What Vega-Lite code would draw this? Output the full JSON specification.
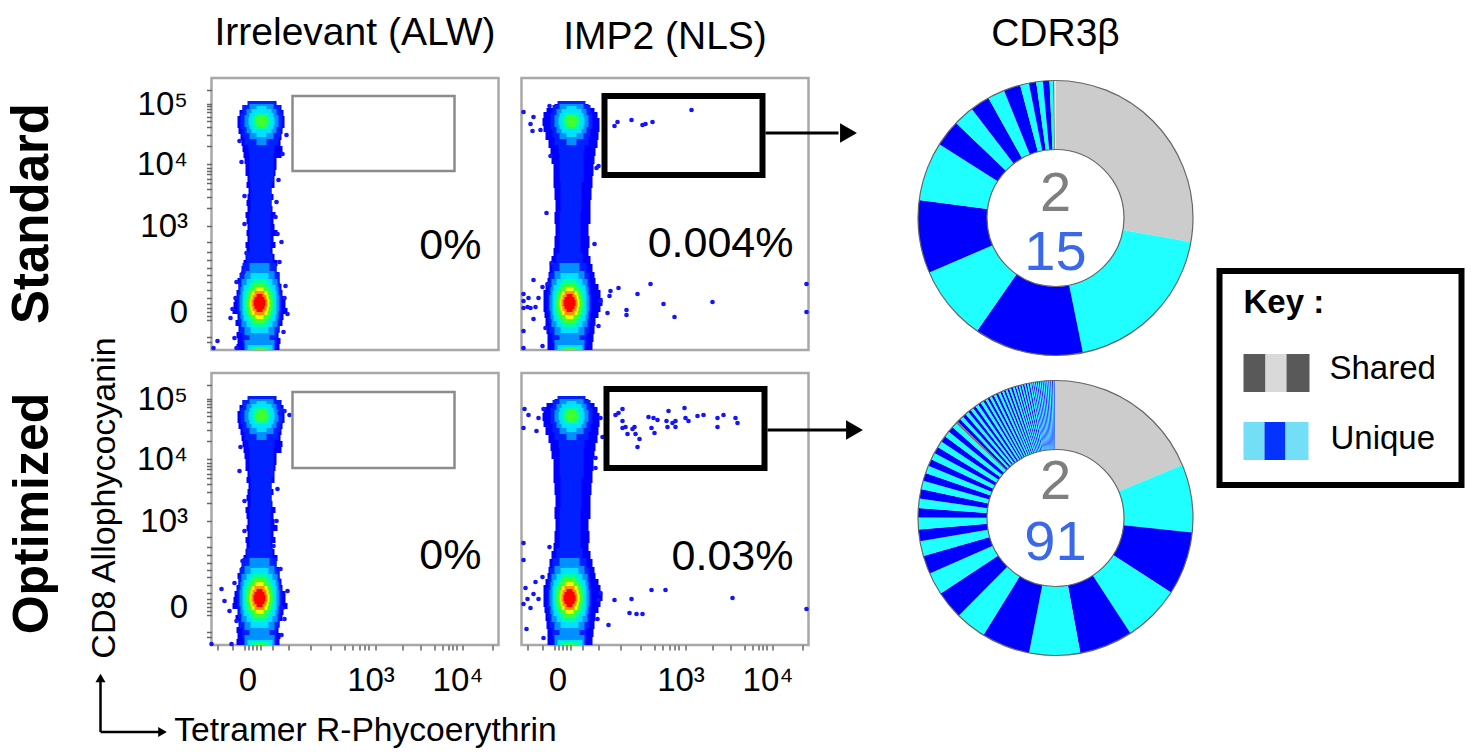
{"$schema":"https://vega.github.io/schema/vega-lite/v6.json","background":"white","padding":{"left":4.5,"top":12,"right":0,"bottom":0},"bounds":"flush","columns":5,"spacing":{"row":15,"column":23},"resolve":{"scale":{"color":"independent"}},
"config":{"font":"Liberation Sans","axis":{"grid":false,"domain":false,"tickColor":"#666","tickWidth":1.5,"tickSize":5,"labelFont":"Liberation Sans","labelFontSize":33,"labelColor":"black","labelBound":false,"labelFlush":false,"labelOverlap":false,"titleFont":"Liberation Sans"},"title":{"font":"Liberation Sans","fontWeight":"normal","fontSize":39,"color":"black","anchor":"middle"}},
"datasets":{
"hot":[
{"l":2,"x":-15,"x2":29,"y":-1,"y2":19},{"l":2,"x":-14,"x2":28,"y":19,"y2":29},{"l":2,"x":-14,"x2":28,"y":-11,"y2":-1},{"l":2,"x":-13,"x2":27,"y":29,"y2":39},{"l":2,"x":-13,"x2":27,"y":-21,"y2":-11},{"l":2,"x":-10,"x2":24,"y":39,"y2":49},{"l":2,"x":-10,"x2":24,"y":-31,"y2":-21},{"l":2,"x":-6,"x2":20,"y":49,"y2":59},{"l":2,"x":-6,"x2":22,"y":-38,"y2":-31},{"l":2,"x":-3,"x2":18,"y":59,"y2":100},{"l":2,"x":-2,"x2":19,"y":100,"y2":130},{"l":2,"x":-3,"x2":21,"y":130,"y2":159},{"l":2,"x":-12,"x2":30,"y":183,"y2":199},{"l":2,"x":-10,"x2":28,"y":199,"y2":207},{"l":2,"x":-5,"x2":23,"y":207,"y2":211},{"l":2,"x":-10,"x2":28,"y":175,"y2":183},{"l":2,"x":-8,"x2":26,"y":167,"y2":175},{"l":2,"x":-4,"x2":22,"y":159,"y2":167},
{"l":3,"x":-13,"x2":27,"y":1,"y2":17},{"l":3,"x":-12,"x2":26,"y":-7,"y2":1},{"l":3,"x":-12,"x2":26,"y":17,"y2":25},{"l":3,"x":-11,"x2":25,"y":-15,"y2":-7},{"l":3,"x":-11,"x2":25,"y":25,"y2":33},{"l":3,"x":-8,"x2":22,"y":-23,"y2":-15},{"l":3,"x":-8,"x2":22,"y":33,"y2":41},{"l":3,"x":-3,"x2":17,"y":-31,"y2":-23},{"l":3,"x":-3,"x2":17,"y":41,"y2":49},{"l":3,"x":-8,"x2":22,"y":-38,"y2":-28},{"l":3,"x":-8,"x2":26,"y":185,"y2":197},{"l":3,"x":-6,"x2":24,"y":179,"y2":185},{"l":3,"x":-6,"x2":24,"y":197,"y2":203},{"l":3,"x":-3,"x2":21,"y":173,"y2":179},{"l":3,"x":-3,"x2":21,"y":203,"y2":208},{"l":3,"x":4,"x2":14,"y":167,"y2":173},
{"l":4,"x":-10,"x2":24,"y":-3,"y2":21},{"l":4,"x":-9,"x2":23,"y":-9,"y2":-3},{"l":4,"x":-9,"x2":23,"y":21,"y2":27},{"l":4,"x":-6,"x2":20,"y":-15,"y2":-9},{"l":4,"x":-6,"x2":20,"y":27,"y2":33},{"l":4,"x":-2,"x2":16,"y":-21,"y2":-15},{"l":4,"x":-2,"x2":16,"y":33,"y2":39},{"l":4,"x":-5,"x2":20,"y":-38,"y2":-33},{"l":4,"x":-4,"x2":22,"y":187,"y2":195},{"l":4,"x":-3,"x2":21,"y":183,"y2":187},{"l":4,"x":-3,"x2":21,"y":195,"y2":199},{"l":4,"x":-1,"x2":19,"y":179,"y2":183},{"l":4,"x":-1,"x2":19,"y":199,"y2":203},{"l":4,"x":4,"x2":14,"y":175,"y2":179},{"l":4,"x":4,"x2":14,"y":203,"y2":206},
{"l":5,"x":-8,"x2":22,"y":1,"y2":17},{"l":5,"x":-7,"x2":21,"y":-3,"y2":1},{"l":5,"x":-7,"x2":21,"y":17,"y2":21},{"l":5,"x":-5,"x2":19,"y":-7,"y2":-3},{"l":5,"x":-5,"x2":19,"y":21,"y2":25},{"l":5,"x":-3,"x2":17,"y":-11,"y2":-7},{"l":5,"x":-3,"x2":17,"y":25,"y2":29},{"l":5,"x":0,"x2":14,"y":-15,"y2":-11},{"l":5,"x":0,"x2":14,"y":29,"y2":33},{"l":5,"x":-2,"x2":17,"y":-38,"y2":-35},{"l":5,"x":0,"x2":18,"y":187,"y2":195},{"l":5,"x":2,"x2":16,"y":183,"y2":187},{"l":5,"x":2,"x2":16,"y":195,"y2":199},
{"l":6,"x":-6,"x2":20,"y":5,"y2":13},{"l":6,"x":-5,"x2":19,"y":1,"y2":5},{"l":6,"x":-5,"x2":19,"y":13,"y2":17},{"l":6,"x":-4,"x2":18,"y":-3,"y2":1},{"l":6,"x":-4,"x2":18,"y":17,"y2":21},{"l":6,"x":-2,"x2":16,"y":-7,"y2":-3},{"l":6,"x":-2,"x2":16,"y":21,"y2":25},{"l":6,"x":1,"x2":13,"y":-11,"y2":-7},{"l":6,"x":1,"x2":13,"y":25,"y2":29},{"l":6,"x":3,"x2":12,"y":-38,"y2":-36},{"l":6,"x":3,"x2":15,"y":188,"y2":194},{"l":6,"x":5,"x2":13,"y":185,"y2":188},{"l":6,"x":5,"x2":13,"y":194,"y2":197},
{"l":7,"x":-3,"x2":17,"y":5,"y2":13},{"l":7,"x":-2,"x2":16,"y":1,"y2":5},{"l":7,"x":-2,"x2":16,"y":13,"y2":17},{"l":7,"x":-1,"x2":15,"y":-3,"y2":1},{"l":7,"x":-1,"x2":15,"y":17,"y2":21},{"l":7,"x":3,"x2":11,"y":-7,"y2":-3},{"l":7,"x":3,"x2":11,"y":21,"y2":25},
{"l":8,"x":-1,"x2":15,"y":5,"y2":13},{"l":8,"x":0,"x2":14,"y":1,"y2":5},{"l":8,"x":0,"x2":14,"y":13,"y2":17},{"l":8,"x":2,"x2":12,"y":-3,"y2":1},{"l":8,"x":2,"x2":12,"y":17,"y2":21},
{"l":9,"x":1,"x2":13,"y":6,"y2":12},{"l":9,"x":2,"x2":12,"y":3,"y2":6},{"l":9,"x":2,"x2":12,"y":12,"y2":15},{"l":9,"x":4,"x2":10,"y":0,"y2":3},{"l":9,"x":4,"x2":10,"y":15,"y2":18}],
"baseNarrow":[{"x":-16,"x2":27,"y":-38,"y2":-32},{"x":-15,"x2":28,"y":-32,"y2":-26},{"x":-16,"x2":26,"y":-26,"y2":-20},{"x":-14,"x2":27,"y":-20,"y2":-14},{"x":-17,"x2":30,"y":-14,"y2":-8},{"x":-15,"x2":31,"y":-8,"y2":-2},{"x":-20,"x2":35,"y":-2,"y2":4},{"x":-19,"x2":33,"y":4,"y2":10},{"x":-18,"x2":33,"y":10,"y2":16},{"x":-16,"x2":30,"y":16,"y2":22},{"x":-14,"x2":29,"y":22,"y2":28},{"x":-15,"x2":27,"y":28,"y2":34},{"x":-12,"x2":27,"y":34,"y2":40},{"x":-11,"x2":24,"y":40,"y2":46},{"x":-9,"x2":25,"y":46,"y2":52},{"x":-7,"x2":22,"y":52,"y2":58},{"x":-6,"x2":20,"y":58,"y2":64},{"x":-7,"x2":23,"y":64,"y2":70},{"x":-5,"x2":21,"y":70,"y2":76},{"x":-6,"x2":25,"y":76,"y2":82},{"x":-5,"x2":22,"y":82,"y2":88},{"x":-6,"x2":21,"y":88,"y2":94},{"x":-7,"x2":23,"y":94,"y2":100},{"x":-5,"x2":20,"y":100,"y2":106},{"x":-6,"x2":19,"y":106,"y2":112},{"x":-5,"x2":21,"y":112,"y2":118},{"x":-4,"x2":19,"y":118,"y2":124},{"x":-6,"x2":22,"y":124,"y2":130},{"x":-5,"x2":22,"y":130,"y2":136},{"x":-7,"x2":23,"y":136,"y2":142},{"x":-7,"x2":24,"y":142,"y2":148},{"x":-8,"x2":24,"y":148,"y2":154},{"x":-9,"x2":29,"y":154,"y2":160},{"x":-10,"x2":30,"y":160,"y2":166},{"x":-11,"x2":28,"y":166,"y2":172},{"x":-12,"x2":29,"y":172,"y2":178},{"x":-14,"x2":30,"y":178,"y2":184},{"x":-15,"x2":32,"y":184,"y2":196},{"x":-13,"x2":31,"y":196,"y2":202},{"x":-10,"x2":29,"y":202,"y2":207},{"x":-2,"x2":24,"y":207,"y2":211}],
"baseWide":[{"x":-15,"x2":30,"y":-38,"y2":-30},{"x":-15,"x2":31,"y":-30,"y2":-22},{"x":-16,"x2":32,"y":-22,"y2":-14},{"x":-17,"x2":33,"y":-14,"y2":-6},{"x":-18,"x2":36,"y":-6,"y2":0},{"x":-19,"x2":38,"y":0,"y2":6},{"x":-19,"x2":40,"y":6,"y2":14},{"x":-19,"x2":38,"y":14,"y2":22},{"x":-17,"x2":36,"y":22,"y2":28},{"x":-15,"x2":33,"y":28,"y2":34},{"x":-14,"x2":32,"y":34,"y2":40},{"x":-13,"x2":30,"y":40,"y2":48},{"x":-11,"x2":28,"y":48,"y2":56},{"x":-9,"x2":26,"y":56,"y2":64},{"x":-8,"x2":27,"y":64,"y2":76},{"x":-7,"x2":26,"y":76,"y2":88},{"x":-8,"x2":28,"y":88,"y2":100},{"x":-7,"x2":28,"y":100,"y2":112},{"x":-8,"x2":29,"y":112,"y2":124},{"x":-9,"x2":30,"y":124,"y2":136},{"x":-9,"x2":31,"y":136,"y2":148},{"x":-11,"x2":32,"y":148,"y2":156},{"x":-12,"x2":33,"y":156,"y2":164},{"x":-14,"x2":35,"y":164,"y2":172},{"x":-17,"x2":36,"y":172,"y2":180},{"x":-19,"x2":37,"y":180,"y2":186},{"x":-20,"x2":37,"y":186,"y2":194},{"x":-19,"x2":35,"y":194,"y2":200},{"x":-16,"x2":32,"y":200,"y2":204},{"x":-8,"x2":26,"y":204,"y2":208},{"x":0,"x2":18,"y":208,"y2":211}],
"pts1":[{"x":34,"y":177},{"x":-8,"y":116},{"x":26,"y":132},{"x":23,"y":95},{"x":29,"y":70},{"x":-35,"y":-29},{"x":-39,"y":-36},{"x":-16,"y":-36},{"x":-20,"y":3},{"x":35,"y":-2},{"x":32,"y":14},{"x":-17,"y":14},{"x":-13,"y":171},{"x":30,"y":158},{"x":25,"y":78},{"x":-6,"y":59},{"x":-9,"y":40},{"x":27,"y":50},{"x":-11,"y":150},{"x":-16,"y":30},{"x":33,"y":26},{"x":-22,"y":-6},{"x":31,"y":-20},{"x":-18,"y":-26},{"x":24,"y":110},{"x":-8,"y":88}],
"pts3":[{"x":37,"y":192},{"x":27,"y":194},{"x":32,"y":196},{"x":-28,"y":6},{"x":-23,"y":-4},{"x":-31,"y":18},{"x":-16,"y":-14},{"x":-41,"y":-37},{"x":-21,"y":-37},{"x":17,"y":136},{"x":-8,"y":106},{"x":21,"y":61},{"x":30,"y":-1},{"x":35,"y":16},{"x":-13,"y":136},{"x":24,"y":86},{"x":-10,"y":46},{"x":28,"y":38},{"x":-12,"y":160},{"x":-18,"y":24},{"x":32,"y":-12},{"x":25,"y":118},{"x":-8,"y":76},{"x":29,"y":-28}],
"pts2":[{"x":52,"y":186},{"x":55,"y":190},{"x":69,"y":192},{"x":80,"y":187},{"x":83,"y":188},{"x":90,"y":190},{"x":129,"y":202},{"x":-13,"y":206},{"x":-29,"y":195},{"x":-32,"y":188},{"x":-30,"y":181},{"x":-22,"y":182},{"x":-39,"y":200},{"x":34,"y":144},{"x":36,"y":146},{"x":-16,"y":99},{"x":-12,"y":156},{"x":32,"y":68},{"x":-11,"y":49},{"x":-29,"y":32},{"x":-20,"y":25},{"x":-15,"y":28},{"x":-39,"y":18},{"x":-34,"y":14},{"x":-39,"y":4},{"x":-32,"y":4},{"x":-27,"y":5},{"x":-29,"y":-7},{"x":-39,"y":-19},{"x":-39,"y":-36},{"x":-20,"y":-34},{"x":-24,"y":14},{"x":-17,"y":-16},{"x":-35,"y":5},{"x":-39,"y":11},{"x":48,"y":21},{"x":56,"y":24},{"x":47,"y":16},{"x":75,"y":18},{"x":88,"y":28},{"x":101,"y":8},{"x":150,"y":10},{"x":45,"y":-1},{"x":64,"y":2},{"x":64,"y":-3},{"x":112,"y":-5},{"x":36,"y":-14},{"x":244,"y":28},{"x":244,"y":0},{"x":38,"y":11}],
"pts4":[{"x":60,"y":198},{"x":56,"y":194},{"x":53,"y":192},{"x":60,"y":186},{"x":60,"y":179},{"x":63,"y":180},{"x":72,"y":180},{"x":70,"y":178},{"x":65,"y":173},{"x":73,"y":173},{"x":77,"y":168},{"x":75,"y":160},{"x":86,"y":190},{"x":91,"y":189},{"x":95,"y":187},{"x":89,"y":179},{"x":92,"y":174},{"x":106,"y":196},{"x":104,"y":186},{"x":105,"y":180},{"x":110,"y":184},{"x":113,"y":186},{"x":113,"y":180},{"x":122,"y":199},{"x":123,"y":189},{"x":126,"y":186},{"x":135,"y":191},{"x":141,"y":192},{"x":155,"y":189},{"x":161,"y":192},{"x":155,"y":180},{"x":173,"y":189},{"x":175,"y":184},{"x":-38,"y":198},{"x":-34,"y":192},{"x":-24,"y":189},{"x":-26,"y":176},{"x":-39,"y":179},{"x":-19,"y":198},{"x":38,"y":189},{"x":40,"y":170},{"x":33,"y":149},{"x":33,"y":139},{"x":-39,"y":64},{"x":-13,"y":60},{"x":-39,"y":47},{"x":-20,"y":30},{"x":-27,"y":25},{"x":-37,"y":19},{"x":-29,"y":13},{"x":-35,"y":8},{"x":-39,"y":3},{"x":-32,"y":-1},{"x":-36,"y":-22},{"x":-19,"y":-31},{"x":-24,"y":8},{"x":52,"y":7},{"x":69,"y":8},{"x":89,"y":17},{"x":103,"y":17},{"x":170,"y":9},{"x":67,"y":-6},{"x":74,"y":-7},{"x":80,"y":-7},{"x":46,"y":-18},{"x":35,"y":-12},{"x":244,"y":-2},{"x":38,"y":14},{"x":36,"y":7}],
"d1":[{"i":1,"c":"S1","deg":100.1},{"i":2,"c":"U1","deg":68.4},{"i":3,"c":"U2","deg":46.3},{"i":4,"c":"U1","deg":31.8},{"i":5,"c":"U2","deg":30.9},{"i":6,"c":"U1","deg":24.9},{"i":7,"c":"U2","deg":11.3},{"i":8,"c":"U1","deg":8.8},{"i":9,"c":"U2","deg":8.3},{"i":10,"c":"U1","deg":7.2},{"i":11,"c":"U2","deg":7.1},{"i":12,"c":"U1","deg":3.7},{"i":13,"c":"U2","deg":3.1},{"i":14,"c":"U1","deg":2.8},{"i":15,"c":"U2","deg":2.8},{"i":16,"c":"U1","deg":1.4},{"i":17,"c":"S2","deg":0.6}],
"d2":[{"i":1,"c":"S1","deg":67.6},{"i":2,"c":"U1","deg":28.9},{"i":3,"c":"U2","deg":26.8},{"i":4,"c":"U1","deg":24.3},{"i":5,"c":"U2","deg":22.7},{"i":6,"c":"U1","deg":21.6},{"i":7,"c":"U2","deg":20.6},{"i":8,"c":"U1","deg":13.2},{"i":9,"c":"U2","deg":12},{"i":10,"c":"U1","deg":9.5},{"i":11,"c":"U2","deg":7.8},{"i":12,"c":"U1","deg":6.3},{"i":13,"c":"U2","deg":5},{"i":14,"c":"U1","deg":5},{"i":15,"c":"U2","deg":4},{"i":16,"c":"U1","deg":4},{"i":17,"c":"U2","deg":4},{"i":18,"c":"U1","deg":3.6},{"i":19,"c":"U2","deg":3.4},{"i":20,"c":"U1","deg":3.2},{"i":21,"c":"U2","deg":3},{"i":22,"c":"U1","deg":3},{"i":23,"c":"U2","deg":2.8},{"i":24,"c":"U1","deg":2.8},{"i":25,"c":"U2","deg":2.6},{"i":26,"c":"U1","deg":2.6},{"i":27,"c":"U2","deg":2.4},{"i":28,"c":"U1","deg":2.2},{"i":29,"c":"S2","deg":1},{"i":30,"c":"U2","deg":1.5},{"i":31,"c":"U1","deg":1.5},{"i":32,"c":"U2","deg":1.5},{"i":33,"c":"U1","deg":1.5},{"i":34,"c":"U2","deg":1.3},{"i":35,"c":"U1","deg":1.3},{"i":36,"c":"U2","deg":1.3},{"i":37,"c":"U1","deg":1.3},{"i":38,"c":"U2","deg":1.3},{"i":39,"c":"U1","deg":1.3},{"i":40,"c":"U2","deg":1},{"i":41,"c":"U1","deg":1},{"i":42,"c":"U2","deg":1},{"i":43,"c":"U1","deg":1},{"i":44,"c":"U2","deg":1},{"i":45,"c":"U1","deg":1},{"i":46,"c":"U2","deg":1},{"i":47,"c":"U1","deg":1},{"i":48,"c":"U2","deg":0.8},{"i":49,"c":"U1","deg":0.8},{"i":50,"c":"U2","deg":0.8},{"i":51,"c":"U1","deg":0.8},{"i":52,"c":"U2","deg":0.8},{"i":53,"c":"U1","deg":0.8},{"i":54,"c":"U2","deg":0.8},{"i":55,"c":"U1","deg":0.8},{"i":56,"c":"U2","deg":0.6},{"i":57,"c":"U1","deg":0.6},{"i":58,"c":"U2","deg":0.6},{"i":59,"c":"U1","deg":0.6},{"i":60,"c":"U2","deg":0.6},{"i":61,"c":"U1","deg":0.6},{"i":62,"c":"U2","deg":0.6},{"i":63,"c":"U1","deg":0.6},{"i":64,"c":"U2","deg":0.6},{"i":65,"c":"U1","deg":0.6},{"i":66,"c":"U2","deg":0.6},{"i":67,"c":"U1","deg":0.6},{"i":68,"c":"U2","deg":0.4},{"i":69,"c":"U1","deg":0.4},{"i":70,"c":"U2","deg":0.4},{"i":71,"c":"U1","deg":0.4},{"i":72,"c":"U2","deg":0.4},{"i":73,"c":"U1","deg":0.4},{"i":74,"c":"U2","deg":0.4},{"i":75,"c":"U1","deg":0.4},{"i":76,"c":"U2","deg":0.4},{"i":77,"c":"U1","deg":0.4},{"i":78,"c":"U2","deg":0.4},{"i":79,"c":"U1","deg":0.4},{"i":80,"c":"U2","deg":0.4},{"i":81,"c":"U1","deg":0.4},{"i":82,"c":"U2","deg":0.4},{"i":83,"c":"U1","deg":0.4},{"i":84,"c":"U2","deg":0.4},{"i":85,"c":"U1","deg":0.4},{"i":86,"c":"U2","deg":0.4},{"i":87,"c":"U1","deg":0.4},{"i":88,"c":"U2","deg":0.4},{"i":89,"c":"U1","deg":0.4},{"i":90,"c":"U2","deg":0.35},{"i":91,"c":"U1","deg":0.35},{"i":92,"c":"U2","deg":0.35},{"i":93,"c":"U1","deg":0.35}]
},
"concat":[
{"title":{"text":"Irrelevant (ALW)","offset":21},"width":287,"height":272,"view":{"stroke":"#a8a8a8","strokeWidth":2.5},
"encoding":{"x":{"field":"x","type":"quantitative","scale":{"domain":[-41,246],"nice":false,"zero":false},"axis":null},"y":{"field":"y","type":"quantitative","scale":{"domain":[-38,234],"nice":false,"zero":false},"axis":{"title":"Standard","titleFontSize":51,"titleFontWeight":"bold","titleColor":"black","titleAngle":270,"titleX":-179,"titleY":135,"titleAlign":"center","titleBaseline":"middle","labelPadding":19,"values":[-30,-25,-8,-4,0,4,8,14,22,30,37,44,52,60,70,86,104,115,123,129,133,138,141,144,148,166,177,185,191,195,200,203,206,208,222],"labelExpr":"datum.value==0?'0':datum.value==86?'10³':datum.value==148?'10⁴':datum.value==208?'10⁵':''"}}},
"layer":[
{"data":{"name":"baseNarrow"},"mark":{"type":"rect","color":"#0000ff"},"encoding":{"x2":{"field":"x2"},"y2":{"field":"y2"}}},
{"data":{"name":"hot"},"mark":{"type":"rect"},"encoding":{"x2":{"field":"x2"},"y2":{"field":"y2"},"color":{"field":"l","type":"ordinal","legend":null,"scale":{"domain":[2,3,4,5,6,7,8,9],"range":["#0020ff","#0090ff","#00e0ff","#00ffa0","#40ff30","#f0ff00","#ff9000","#ff0000"]}}}},
{"data":{"name":"pts1"},"mark":{"type":"circle","size":22,"color":"#1414ff","opacity":1}},
{"data":{"values":[{"x":40,"x2":202,"y":141,"y2":216}]},"mark":{"type":"rect","fill":null,"stroke":"#8c8c8c","strokeWidth":2.5},"encoding":{"x2":{"field":"x2"},"y2":{"field":"y2"}}},
{"data":{"values":[{"x":229,"y":66,"t":"0%"}]},"mark":{"type":"text","fontSize":43,"align":"right","baseline":"middle","color":"black"},"encoding":{"text":{"field":"t"}}}
]},
{"title":{"text":"IMP2 (NLS)","offset":21},"width":287,"height":272,"view":{"stroke":"#a8a8a8","strokeWidth":2.5},
"encoding":{"x":{"field":"x","type":"quantitative","scale":{"domain":[-41,246],"nice":false,"zero":false},"axis":null},"y":{"field":"y","type":"quantitative","scale":{"domain":[-38,234],"nice":false,"zero":false},"axis":null}},
"layer":[
{"data":{"name":"baseWide"},"mark":{"type":"rect","color":"#0000ff"},"encoding":{"x2":{"field":"x2"},"y2":{"field":"y2"}}},
{"data":{"name":"hot"},"mark":{"type":"rect"},"encoding":{"x2":{"field":"x2"},"y2":{"field":"y2"},"color":{"field":"l","type":"ordinal","legend":null,"scale":{"domain":[2,3,4,5,6,7,8,9],"range":["#0020ff","#0090ff","#00e0ff","#00ffa0","#40ff30","#f0ff00","#ff9000","#ff0000"]}}}},
{"data":{"name":"pts2"},"mark":{"type":"circle","size":22,"color":"#1414ff","opacity":1}},
{"data":{"values":[{"x":42,"x2":200,"y":137,"y2":216}]},"mark":{"type":"rect","fill":null,"stroke":"black","strokeWidth":6},"encoding":{"x2":{"field":"x2"},"y2":{"field":"y2"}}},
{"data":{"values":[{"x":203,"x2":276,"y":179}]},"mark":{"type":"rule","color":"black","strokeWidth":3},"encoding":{"x2":{"field":"x2"}}},
{"data":{"values":[{"x":286,"y":179}]},"mark":{"type":"point","shape":"triangle-right","filled":true,"size":380,"color":"black","opacity":1}},
{"data":{"values":[{"x":231,"y":68,"t":"0.004%"}]},"mark":{"type":"text","fontSize":43,"align":"right","baseline":"middle","color":"black"},"encoding":{"text":{"field":"t"}}}
]},
{"width":63,"height":10,"view":{"stroke":null},"data":{"values":[]},"mark":{"type":"rule","opacity":0},"encoding":{}},
{"title":{"text":"CDR3β","offset":24},"width":276,"height":280,"view":{"stroke":null},
"layer":[
{"data":{"name":"d1"},"mark":{"type":"arc","innerRadius":68.5,"outerRadius":137.5},"encoding":{"theta":{"field":"deg","type":"quantitative","scale":{"domain":[0,360]},"stack":true},"order":{"field":"i","type":"quantitative"},"color":{"field":"c","type":"nominal","legend":null,"scale":{"domain":["S1","S2","U1","U2"],"range":["#cccccc","#777777","#1fffff","#0000ff"]}}}},
{"data":{"values":[{"deg":360}]},"mark":{"type":"arc","innerRadius":68.5,"outerRadius":137.5,"fillOpacity":0,"stroke":"#666666","strokeWidth":1.2},"encoding":{"theta":{"field":"deg","type":"quantitative","scale":{"domain":[0,360]}}}},
{"data":{"values":[{"n":"2","v":24}]},"mark":{"type":"text","fontSize":56,"color":"#7f7f7f","baseline":"middle"},"encoding":{"y":{"field":"v","type":"quantitative","scale":{"domain":[-140,140]},"axis":null},"text":{"field":"n"}}},
{"data":{"values":[{"n":"15","v":-35}]},"mark":{"type":"text","fontSize":56,"color":"#3a68ea","baseline":"middle"},"encoding":{"y":{"field":"v","type":"quantitative","scale":{"domain":[-140,140]},"axis":null},"text":{"field":"n"}}}
]},
{"width":248,"height":280,"view":{"stroke":null},
"encoding":{"x":{"field":"x","type":"quantitative","scale":{"domain":[0,248],"nice":false,"zero":false},"axis":null},"y":{"field":"y","type":"quantitative","scale":{"domain":[280,0],"nice":false,"zero":false},"axis":null}},
"layer":[
{"data":{"values":[{"x":3,"x2":245,"y":193,"y2":407}]},"mark":{"type":"rect","fill":"white","stroke":"black","strokeWidth":6},"encoding":{"x2":{"field":"x2"},"y2":{"field":"y2"}}},
{"data":{"values":[{"x":27,"x2":49,"y":276,"y2":314,"c":"dark"},{"x":49,"x2":70,"y":276,"y2":314,"c":"light"},{"x":70,"x2":93,"y":276,"y2":314,"c":"dark"},{"x":27,"x2":48,"y":344,"y2":382,"c":"sky"},{"x":48,"x2":69,"y":344,"y2":382,"c":"royal"},{"x":69,"x2":92,"y":344,"y2":382,"c":"sky"}]},"mark":{"type":"rect"},"encoding":{"x2":{"field":"x2"},"y2":{"field":"y2"},"color":{"field":"c","type":"nominal","legend":null,"scale":{"domain":["dark","light","sky","royal"],"range":["#595959","#d9d9d9","#72dff7","#0432ff"]}}}},
{"data":{"values":[{"x":27,"y":225,"t":"Key :"}]},"mark":{"type":"text","fontSize":33,"fontWeight":"bold","align":"left","baseline":"middle","color":"black"},"encoding":{"text":{"field":"t"}}},
{"data":{"values":[{"x":113,"y":291,"t":"Shared"},{"x":114,"y":361,"t":"Unique"}]},"mark":{"type":"text","fontSize":33,"align":"left","baseline":"middle","color":"black"},"encoding":{"text":{"field":"t"}}}
]},
{"width":287,"height":272,"view":{"stroke":"#a8a8a8","strokeWidth":2.5},
"encoding":{"x":{"field":"x","type":"quantitative","scale":{"domain":[-41,246],"nice":false,"zero":false},"axis":{"title":null,"labelPadding":14,"labelOffset":-5,"values":[-35,-20,-8,-4,0,4,8,20,36,58,78,92,100,107,112,116,123,150,168,182,190,196,200,204,210,240],"labelExpr":"datum.value==0?'0':datum.value==123?'10³':datum.value==210?'10⁴':''"}},"y":{"field":"y","type":"quantitative","scale":{"domain":[-38,234],"nice":false,"zero":false},"axis":{"title":"Optimized","titleFontSize":50,"titleFontWeight":"bold","titleColor":"black","titleAngle":270,"titleX":-179,"titleY":140,"titleAlign":"center","titleBaseline":"middle","labelPadding":19,"values":[-30,-25,-8,-4,0,4,8,14,22,30,37,44,52,60,70,86,104,115,123,129,133,138,141,144,148,166,177,185,191,195,200,203,206,208,222],"labelExpr":"datum.value==0?'0':datum.value==86?'10³':datum.value==148?'10⁴':datum.value==208?'10⁵':''"}}},
"layer":[
{"data":{"name":"baseNarrow"},"mark":{"type":"rect","color":"#0000ff"},"encoding":{"x2":{"field":"x2"},"y2":{"field":"y2"}}},
{"data":{"name":"hot"},"mark":{"type":"rect"},"encoding":{"x2":{"field":"x2"},"y2":{"field":"y2"},"color":{"field":"l","type":"ordinal","legend":null,"scale":{"domain":[2,3,4,5,6,7,8,9],"range":["#0020ff","#0090ff","#00e0ff","#00ffa0","#40ff30","#f0ff00","#ff9000","#ff0000"]}}}},
{"data":{"name":"pts3"},"mark":{"type":"circle","size":22,"color":"#1414ff","opacity":1}},
{"data":{"values":[{"x":40,"x2":202,"y":139,"y2":215}]},"mark":{"type":"rect","fill":null,"stroke":"#8c8c8c","strokeWidth":2.5},"encoding":{"x2":{"field":"x2"},"y2":{"field":"y2"}}},
{"data":{"values":[{"x":229,"y":51,"t":"0%"}]},"mark":{"type":"text","fontSize":43,"align":"right","baseline":"middle","color":"black"},"encoding":{"text":{"field":"t"}}},
{"data":{"values":[{"x":-148,"y":109,"t":"CD8 Allophycocyanin"}]},"mark":{"type":"text","fontSize":34,"angle":270,"align":"center","baseline":"middle","color":"black"},"encoding":{"text":{"field":"t"}}},
{"data":{"values":[{"x":113,"y":-124,"t":"Tetramer R-Phycoerythrin"}]},"mark":{"type":"text","fontSize":33.6,"align":"center","baseline":"middle","color":"black"},"encoding":{"text":{"field":"t"}}},
{"data":{"values":[{"x":-152,"x2":-152,"y":-72,"y2":-125},{"x":-152,"x2":-92,"y":-125,"y2":-125}]},"mark":{"type":"rule","color":"black","strokeWidth":2.5},"encoding":{"x2":{"field":"x2"},"y2":{"field":"y2"}}},
{"data":{"values":[{"x":-152,"y":-71,"s":"up"},{"x":-90,"y":-125,"s":"right"}]},"mark":{"type":"point","filled":true,"size":100,"color":"black","opacity":1},"encoding":{"shape":{"field":"s","type":"nominal","legend":null,"scale":{"domain":["up","right"],"range":["triangle-up","triangle-right"]}}}}
]},
{"width":287,"height":272,"view":{"stroke":"#a8a8a8","strokeWidth":2.5},
"encoding":{"x":{"field":"x","type":"quantitative","scale":{"domain":[-41,246],"nice":false,"zero":false},"axis":{"title":null,"labelPadding":14,"labelOffset":-5,"values":[-35,-20,-8,-4,0,4,8,20,36,58,78,92,100,107,112,116,123,150,168,182,190,196,200,204,210,240],"labelExpr":"datum.value==0?'0':datum.value==123?'10³':datum.value==210?'10⁴':''"}},"y":{"field":"y","type":"quantitative","scale":{"domain":[-38,234],"nice":false,"zero":false},"axis":null}},
"layer":[
{"data":{"name":"baseWide"},"mark":{"type":"rect","color":"#0000ff"},"encoding":{"x2":{"field":"x2"},"y2":{"field":"y2"}}},
{"data":{"name":"hot"},"mark":{"type":"rect"},"encoding":{"x2":{"field":"x2"},"y2":{"field":"y2"},"color":{"field":"l","type":"ordinal","legend":null,"scale":{"domain":[2,3,4,5,6,7,8,9],"range":["#0020ff","#0090ff","#00e0ff","#00ffa0","#40ff30","#f0ff00","#ff9000","#ff0000"]}}}},
{"data":{"name":"pts4"},"mark":{"type":"circle","size":22,"color":"#1414ff","opacity":1}},
{"data":{"values":[{"x":44,"x2":202,"y":139,"y2":218}]},"mark":{"type":"rect","fill":null,"stroke":"black","strokeWidth":6},"encoding":{"x2":{"field":"x2"},"y2":{"field":"y2"}}},
{"data":{"values":[{"x":205,"x2":284,"y":177}]},"mark":{"type":"rule","color":"black","strokeWidth":3},"encoding":{"x2":{"field":"x2"}}},
{"data":{"values":[{"x":292,"y":177}]},"mark":{"type":"point","shape":"triangle-right","filled":true,"size":380,"color":"black","opacity":1}},
{"data":{"values":[{"x":231,"y":50,"t":"0.03%"}]},"mark":{"type":"text","fontSize":43,"align":"right","baseline":"middle","color":"black"},"encoding":{"text":{"field":"t"}}}
]},
{"width":63,"height":10,"view":{"stroke":null},"data":{"values":[]},"mark":{"type":"rule","opacity":0},"encoding":{}},
{"width":276,"height":290,"view":{"stroke":null},
"layer":[
{"data":{"name":"d2"},"mark":{"type":"arc","innerRadius":68.5,"outerRadius":137.5},"encoding":{"theta":{"field":"deg","type":"quantitative","scale":{"domain":[0,361.5]},"stack":true},"order":{"field":"i","type":"quantitative"},"color":{"field":"c","type":"nominal","legend":null,"scale":{"domain":["S1","S2","U1","U2"],"range":["#cccccc","#777777","#1fffff","#0000ff"]}}}},
{"data":{"values":[{"deg":361.5}]},"mark":{"type":"arc","innerRadius":68.5,"outerRadius":137.5,"fillOpacity":0,"stroke":"#666666","strokeWidth":1.2},"encoding":{"theta":{"field":"deg","type":"quantitative","scale":{"domain":[0,361.5]}}}},
{"data":{"values":[{"n":"2","v":36}]},"mark":{"type":"text","fontSize":56,"color":"#7f7f7f","baseline":"middle"},"encoding":{"y":{"field":"v","type":"quantitative","scale":{"domain":[-145,145]},"axis":null},"text":{"field":"n"}}},
{"data":{"values":[{"n":"91","v":-25}]},"mark":{"type":"text","fontSize":56,"color":"#3a68ea","baseline":"middle"},"encoding":{"y":{"field":"v","type":"quantitative","scale":{"domain":[-145,145]},"axis":null},"text":{"field":"n"}}}
]}
]}
